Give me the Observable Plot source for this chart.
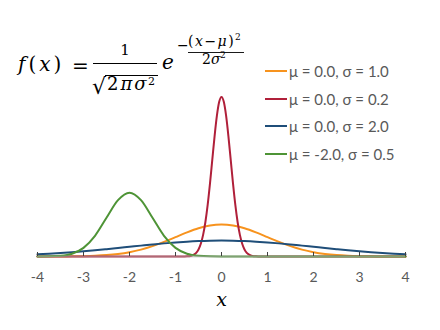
<!DOCTYPE html>
<html><head><meta charset="utf-8">
<script src="https://cdn.jsdelivr.net/npm/d3@7"></script>
<script src="https://cdn.jsdelivr.net/npm/@observablehq/plot@0.6"></script>
<style>
body{margin:0;background:#fff;}
#wrap{position:relative;width:440px;height:330px;overflow:hidden;background:#fff;}
#wrap>svg.plot{position:absolute;left:0;top:0;}
#formula{position:absolute;left:0;top:0;pointer-events:none;}
#legend{position:absolute;left:265px;top:57px;font-family:Lato,sans-serif;font-size:15px;color:#595959;}
.row{display:flex;align-items:center;height:27.7px;white-space:nowrap;}
.sw{width:22px;height:2px;margin-right:2px;}
</style></head>
<body><div id="wrap">
<svg id="formula" width="440" height="330" font-family="'DejaVu Serif', serif" fill="#000">
<text x="18" y="71" font-size="20" letter-spacing="3"><tspan font-style="italic">f</tspan>(<tspan font-style="italic">x</tspan>)</text>
<text x="72" y="73" font-size="20">=</text>
<text x="125" y="55" font-size="15" text-anchor="middle">1</text>
<line x1="93" x2="157" y1="63.5" y2="63.5" stroke="#000" stroke-width="1"/>
<text x="92" y="94" font-size="22">√</text>
<line x1="105" x2="158" y1="75.5" y2="75.5" stroke="#000" stroke-width="1"/>
<text x="107" y="90" font-size="18" letter-spacing="2">2<tspan font-style="italic">πσ</tspan></text>
<text x="148" y="85" font-size="11">2</text>
<text x="162" y="69" font-size="20" font-style="italic">e</text>
<text x="177" y="50" font-size="14">−</text>
<text x="188" y="46" font-size="14" letter-spacing="1.5">(<tspan font-style="italic">x</tspan>−<tspan font-style="italic">μ</tspan>)</text>
<text x="235" y="40" font-size="9">2</text>
<line x1="188" x2="244" y1="52.5" y2="52.5" stroke="#000" stroke-width="0.9"/>
<text x="202" y="64" font-size="14">2<tspan font-style="italic">σ</tspan></text>
<text x="220" y="58" font-size="9">2</text>
</svg>
<div id="legend"></div>
</div>
<script>
const seriesLabels = ["μ = 0.0, σ = 1.0", "μ = 0.0, σ = 0.2", "μ = 0.0, σ = 2.0", "μ = -2.0, σ = 0.5"];
const seriesColors = ["#f7931e", "#b0203a", "#1f4e79", "#4e9436"];
const xTicks = [-4, -3, -2, -1, 0, 1, 2, 3, 4];
const xLabel = "x";

const xGrid = [-4, -3.75, -3.5, -3.25, -3, -2.75, -2.5, -2.25, -2, -1.75, -1.5, -1.25, -1, -0.75, -0.5, -0.25, 0,
  0.25, 0.5, 0.75, 1, 1.25, 1.5, 1.75, 2, 2.25, 2.5, 2.75, 3, 3.25, 3.5, 3.75, 4];
const orangeY = [0.0001, 0.0004, 0.0009, 0.0020, 0.0044, 0.0091, 0.0175, 0.0317, 0.0540, 0.0863, 0.1295, 0.1826, 0.2420, 0.3011, 0.3521, 0.3867, 0.3989,
  0.3867, 0.3521, 0.3011, 0.2420, 0.1826, 0.1295, 0.0863, 0.0540, 0.0317, 0.0175, 0.0091, 0.0044, 0.0020, 0.0009, 0.0004, 0.0001];
const blueY = [0.0270, 0.0344, 0.0431, 0.0533, 0.0648, 0.0775, 0.0913, 0.1059, 0.1210, 0.1360, 0.1506, 0.1641, 0.1760, 0.1859, 0.1933, 0.1979, 0.1995,
  0.1979, 0.1933, 0.1859, 0.1760, 0.1641, 0.1506, 0.1360, 0.1210, 0.1059, 0.0913, 0.0775, 0.0648, 0.0533, 0.0431, 0.0344, 0.0270];
const greenY = [0.0003, 0.0017, 0.0089, 0.0351, 0.1080, 0.2590, 0.4839, 0.7041, 0.7979, 0.7041, 0.4839, 0.2590, 0.1080, 0.0351, 0.0089, 0.0017, 0.0003,
  0, 0, 0, 0, 0, 0, 0, 0, 0, 0, 0, 0, 0, 0, 0, 0];
const xRed = [-4, -0.8, -0.75, -0.7, -0.65, -0.6, -0.55, -0.5, -0.45, -0.4, -0.35, -0.3, -0.25, -0.2, -0.15, -0.1, -0.05, 0,
  0.05, 0.1, 0.15, 0.2, 0.25, 0.3, 0.35, 0.4, 0.45, 0.5, 0.55, 0.6, 0.65, 0.7, 0.75, 0.8, 4];
const redY = [0, 0.0007, 0.0018, 0.0044, 0.0101, 0.0222, 0.0455, 0.0876, 0.1587, 0.2700, 0.4314, 0.6476, 0.9132, 1.2099, 1.5057, 1.7603, 1.9333, 1.9947,
  1.9333, 1.7603, 1.5057, 1.2099, 0.9132, 0.6476, 0.4314, 0.2700, 0.1587, 0.0876, 0.0455, 0.0222, 0.0101, 0.0044, 0.0018, 0.0007, 0];

const seriesX = [xGrid, xRed, xGrid, xGrid];
const seriesY = [orangeY, redY, blueY, greenY];
const rows = [];
seriesLabels.forEach((s, i) => seriesX[i].forEach((x, j) => rows.push({s, x, y: seriesY[i][j]})));

const chart = Plot.plot({
  width: 440, height: 330,
  marginLeft: 37, marginRight: 35, marginTop: 96, marginBottom: 74,
  x: {domain: [-4, 4]},
  y: {domain: [0, 2], axis: null},
  color: {domain: seriesLabels, range: seriesColors},
  style: {fontFamily: "Lato, sans-serif", fontSize: "14px", color: "#595959", background: "transparent"},
  marks: [
    Plot.line(rows, {x: "x", y: "y", z: "s", stroke: "s", strokeWidth: 2, curve: "monotone-x"}),
    Plot.ruleY([0], {stroke: "#b0b0b0", strokeOpacity: 0.5, strokeWidth: 2}),
    Plot.axisX({ticks: xTicks, tickSize: 4, dy: -4, tickFormat: () => "", label: null, stroke: "#404040"}),
    Plot.axisX({ticks: xTicks, tickSize: 0, tickPadding: 16, tickFormat: d => String(d), label: null, fill: "#595959"}),
    Plot.text([xLabel], {frameAnchor: "bottom", dy: 49, fontStyle: "italic", fontFamily: "'DejaVu Serif', serif", fontSize: 19, fill: "#000"})
  ]
});
chart.classList.add("plot");
const wrap = document.getElementById("wrap");
wrap.insertBefore(chart, wrap.firstChild);

const legend = document.getElementById("legend");
seriesLabels.forEach((s, i) => {
  const row = document.createElement("div");
  row.className = "row";
  const sw = document.createElement("span");
  sw.className = "sw";
  sw.style.background = seriesColors[i];
  const t = document.createElement("span");
  t.textContent = s;
  row.appendChild(sw); row.appendChild(t);
  legend.appendChild(row);
});
</script>
</body></html>
